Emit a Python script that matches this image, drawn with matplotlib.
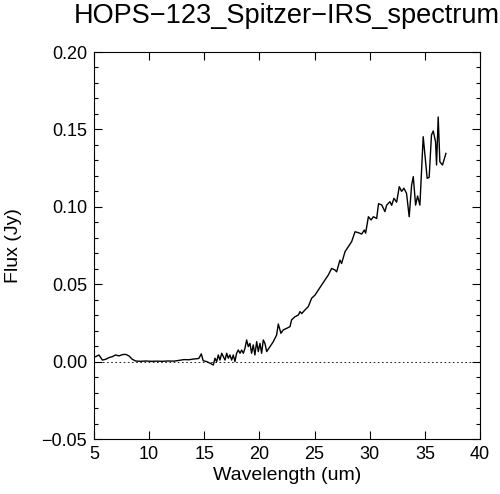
import matplotlib
matplotlib.use("Agg")
import matplotlib.pyplot as plt
from matplotlib.ticker import MultipleLocator

plt.rcParams['font.family'] = ['Liberation Sans', 'DejaVu Sans']

title = "HOPS\u2212123_Spitzer\u2212IRS_spectrum"
xlabel = "Wavelength (um)"
ylabel = "Flux (Jy)"

wavelength = [5.15, 5.45, 5.76, 6.06, 6.36, 6.66, 6.96, 7.27, 7.57, 7.87, 8.17, 8.47, 8.78,
              9.23, 9.7, 10.2, 10.7, 11.2, 11.7, 12.25, 12.7, 13.16, 13.6, 14.06, 14.5, 14.73,
              14.9, 15.22, 15.52, 15.82, 15.97, 16.12, 16.27, 16.42, 16.58, 16.73, 16.88,
              17.03, 17.18, 17.33, 17.48, 17.63, 17.78, 17.93, 18.08, 18.24, 18.39, 18.54,
              18.69, 18.84, 18.99, 19.14, 19.29, 19.44, 19.59, 19.75, 19.90, 20.05, 20.20,
              20.35, 20.50, 20.66, 20.96, 21.26, 21.56, 21.71, 21.95, 22.16, 22.47, 22.77,
              22.92, 23.22, 23.53, 23.68, 23.83, 24.13, 24.43, 24.73, 25.04, 25.34, 25.64,
              25.94, 26.25, 26.55, 26.85, 27.0, 27.30, 27.45, 27.76, 28.06, 28.36, 28.67,
              28.97, 29.27, 29.51, 29.63, 29.88, 30.12, 30.33, 30.63, 30.80, 31.09, 31.38,
              31.53, 31.83, 31.99, 32.2, 32.44, 32.68, 32.89, 33.1, 33.34, 33.58, 33.80,
              33.95, 34.16, 34.34, 34.55, 34.85, 35.0, 35.21, 35.39, 35.60, 35.76, 35.97,
              36.06, 36.21, 36.36, 36.6, 36.91]
flux = [0.0032, 0.0043, 0.0010, 0.0015, 0.0026, 0.0032, 0.0043, 0.0037, 0.0045, 0.0047, 0.0037,
        0.0015, 0.0004, 0.0002, 0.0004, 0.0002, 0.0003, 0.0002, 0.0004, 0.0003, 0.0008, 0.0013,
        0.0012, 0.0017, 0.0020, 0.0050, 0.0006, 0.0000, -0.0010, -0.0022, 0.0022, 0.0000,
        0.0043, 0.0010, 0.0054, 0.0032, 0.0010, 0.0054, 0.0022, 0.0043, 0.0010, 0.0043,
        0.0000, 0.0054, 0.0075, 0.0054, 0.0075, 0.0054, 0.0086, 0.0140, 0.0097, 0.0118,
        0.0054, 0.0108, 0.0043, 0.0129, 0.0065, 0.0118, 0.0054, 0.0140, 0.0118, 0.0065,
        0.0097, 0.0129, 0.0172, 0.0243, 0.0183, 0.0205, 0.0215, 0.0226, 0.0270, 0.0290,
        0.0301, 0.0323, 0.0310, 0.0334, 0.0355, 0.0409, 0.0430, 0.0463, 0.0495, 0.0527,
        0.0560, 0.0602, 0.0592, 0.0580, 0.0656, 0.0634, 0.0710, 0.0742, 0.0775, 0.0839,
        0.0833, 0.0824, 0.0850, 0.0830, 0.0936, 0.0915, 0.0936, 0.0925, 0.1020, 0.1012,
        0.0969, 0.1010, 0.1033, 0.1010, 0.1055, 0.1030, 0.1130, 0.1100, 0.1120, 0.1087,
        0.0936, 0.1140, 0.1195, 0.1011, 0.1070, 0.1011, 0.1453, 0.1340, 0.1184, 0.1190,
        0.1464, 0.1490, 0.1420, 0.1270, 0.1580, 0.1291, 0.1270, 0.1345]

fig = plt.figure(figsize=(5.0, 4.94), dpi=100)
ax = fig.add_axes([0.188, 0.1113, 0.772, 0.7834])

ax.plot(wavelength, flux, color='black', linewidth=1.0)
ax.axhline(0.0, color='black', linestyle=(0, (2, 3)), linewidth=0.6)

ax.set_xlim(5, 40)
ax.set_ylim(-0.05, 0.20)
ax.xaxis.set_major_locator(MultipleLocator(5))
ax.yaxis.set_major_locator(MultipleLocator(0.05))
ax.yaxis.set_minor_locator(MultipleLocator(0.01))
ax.yaxis.set_major_formatter(plt.FuncFormatter(lambda v, p: f"{v:.2f}".replace('-', '\u2212')))

ax.tick_params(which='both', direction='in', top=True, right=True, labelsize=13, colors='black')
ax.tick_params(which='major', length=6, width=0.8, pad=5)
ax.tick_params(which='minor', length=3, width=0.8)
for s in ax.spines.values():
    s.set_linewidth(0.8)

ax.set_xlabel(xlabel, fontsize=14, labelpad=3)
ax.set_ylabel(ylabel, fontsize=14, labelpad=14)
ax.set_title(title, fontsize=19.5, pad=21)

fig.savefig("out.png", dpi=100)
